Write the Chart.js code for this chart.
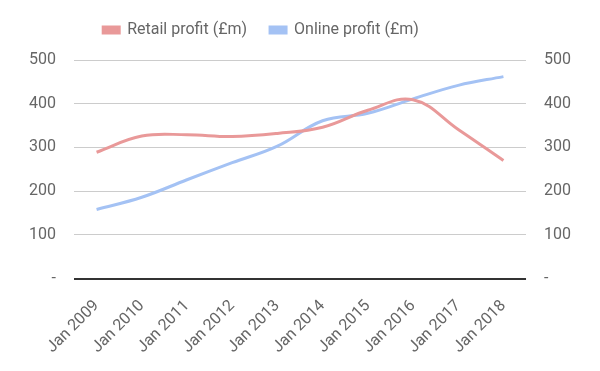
<!DOCTYPE html>
<html>
<head>
<meta charset="utf-8">
<style>
  html, body { margin: 0; padding: 0; background: #fff; }
  #wrap { width: 600px; height: 371px; }
</style>
<script src="https://cdn.jsdelivr.net/npm/chart.js@4"></script>
</head>
<body>
<div id="wrap"><canvas id="myChart"></canvas></div>
<script>
const labels = ['Jan 2009', 'Jan 2010', 'Jan 2011', 'Jan 2012', 'Jan 2013',
                'Jan 2014', 'Jan 2015', 'Jan 2016', 'Jan 2017', 'Jan 2018'];
const retailProfit = [289, 326, 329, 325, 332, 346, 385, 409, 341, 270];
const onlineProfit = [158, 186, 226, 265, 303, 361, 378, 411, 442, 462];
const yTicks = [0, 100, 200, 300, 400, 500];

Chart.defaults.font.family = 'Roboto, "Noto Sans", sans-serif';
Chart.defaults.color = '#666';

const tickLabel = v => (v === 0 ? '-' : String(v));

function yAxis(position) {
  return {
    position: position,
    min: 0,
    max: 500,
    afterBuildTicks: axis => { axis.ticks = yTicks.map(v => ({ value: v })); },
    border: { display: false },
    grid: {
      display: position === 'left',
      drawTicks: false,
      color: c => (c.tick && c.tick.value === 0 ? '#333' : '#ccc'),
      lineWidth: c => (c.tick && c.tick.value === 0 ? 2 : 1)
    },
    ticks: {
      padding: 18,
      font: { size: 16 },
      callback: tickLabel
    }
  };
}

// legend sits a bit left of centre and leaves more room above the plot
const legendTweak = {
  id: 'legendTweak',
  beforeInit(chart) {
    const fit = chart.legend.fit;
    chart.legend.fit = function () {
      fit.call(this);
      this.height = 60;
    };
  },
  afterLayout(chart) {
    chart.legend.left -= 39;
    chart.legend.right -= 39;
    chart.legend.top -= 1;
  }
};

var ctx = document.getElementById('myChart').getContext('2d');
var chart = new Chart(ctx, {
  type: 'line',
  data: {
    labels: labels,
    datasets: [{
      label: 'Retail profit (£m)',
      data: retailProfit,
      borderColor: '#e99999',
      backgroundColor: '#e99999',
      borderWidth: 3,
      pointRadius: 0,
      tension: 0.4,
      yAxisID: 'y'
    }, {
      label: 'Online profit (£m)',
      data: onlineProfit,
      borderColor: '#a4c2f4',
      backgroundColor: '#a4c2f4',
      borderWidth: 3,
      pointRadius: 0,
      tension: 0.4,
      yAxisID: 'y'
    }]
  },
  options: {
    responsive: true,
    maintainAspectRatio: false,
    animation: false,
    layout: { padding: { left: 11, right: 11, top: 0, bottom: 4 } },
    plugins: {
      legend: {
        position: 'top',
        labels: {
          boxWidth: 16,
          boxHeight: 6,
          padding: 23,
          font: { size: 16 },
          color: '#666'
        }
      },
      tooltip: { enabled: false }
    },
    scales: {
      x: {
        offset: true,
        border: { display: false },
        grid: { display: false },
        ticks: {
          maxRotation: 45,
          minRotation: 45,
          padding: 10,
          font: { size: 16 },
          autoSkip: false
        }
      },
      y: yAxis('left'),
      y2: yAxis('right')
    }
  },
  plugins: [legendTweak]
});
</script>
</body>
</html>
